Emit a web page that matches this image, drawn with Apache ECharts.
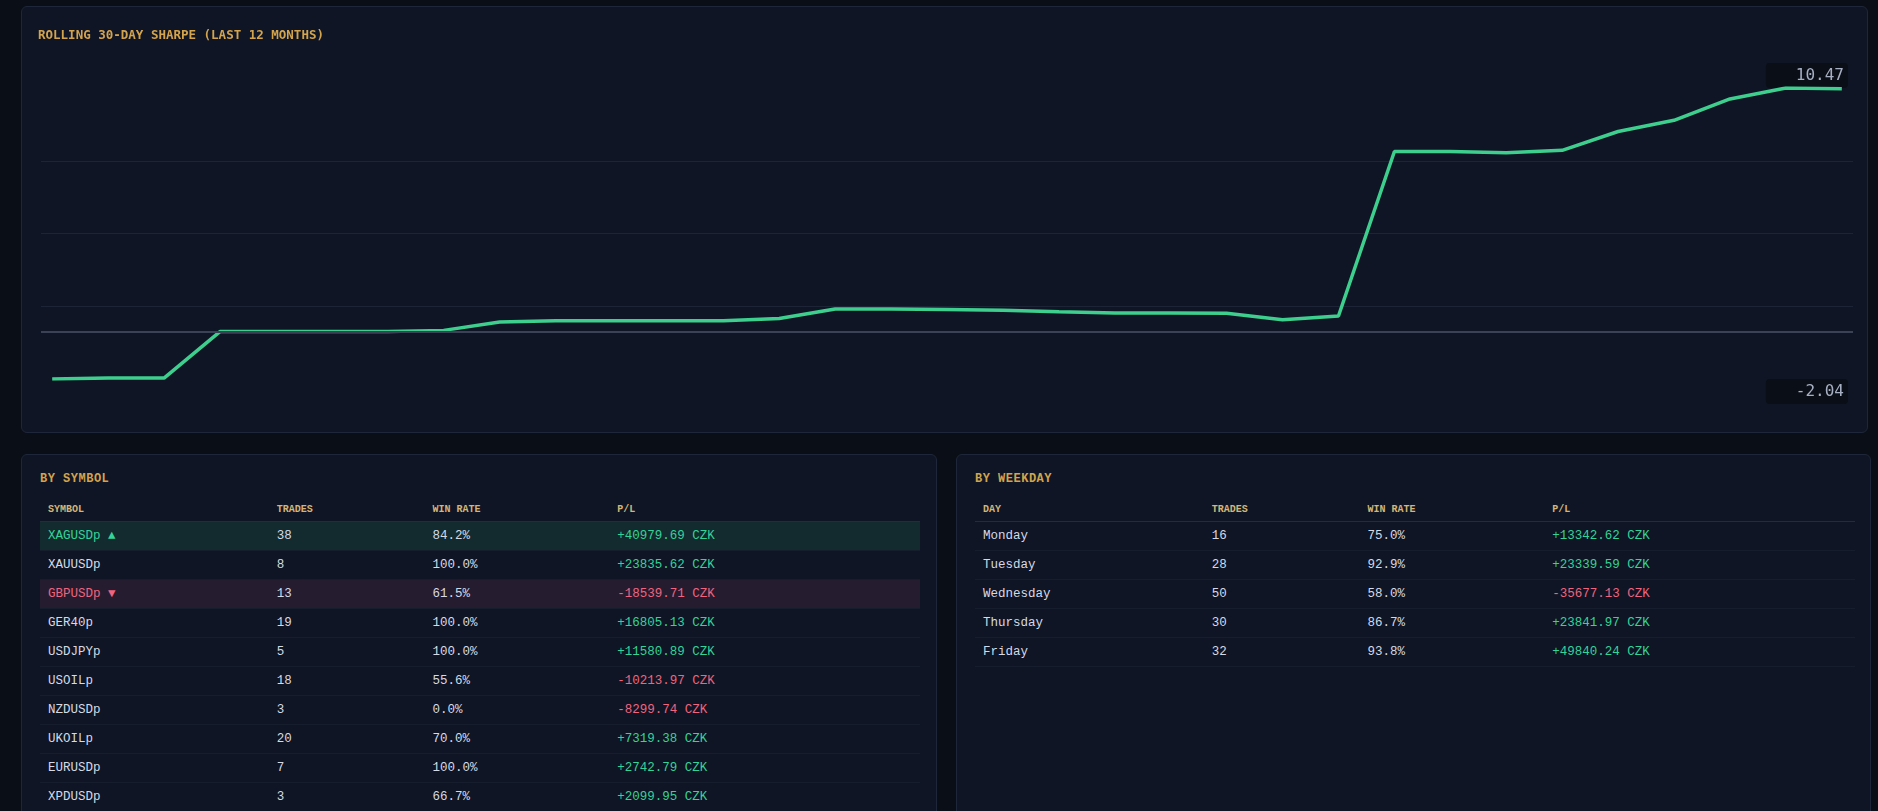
<!DOCTYPE html>
<html>
    <head>
        <meta charset="UTF-8">
        <title>Sharpe</title>
        <script src="https://cdn.jsdelivr.net/npm/echarts@6.0.0/dist/echarts.min.js"></script>
        <style>
            html, body {
                margin: 0;
                padding: 0;
                width: 1878px;
                height: 811px;
                overflow: hidden;
                background: #0a0e17;
                font-family: 'Liberation Mono', 'DejaVu Sans Mono', monospace;
            }
            .panel {
                position: absolute;
                background: #0f1524;
                border: 1px solid #1e2639;
                border-radius: 6px;
                box-sizing: border-box;
            }
            .sharpe-panel { left: 21px; top: 6px; width: 1847px; height: 427px; }
            #sharpe { width: 100%; height: 100%; }
            .symbol-panel { left: 21px; top: 454px; width: 916px; height: 400px; }
            .weekday-panel { left: 956px; top: 454px; width: 915px; height: 400px; }
            h3 {
                margin: 0;
                position: absolute;
                left: 18px;
                top: 17px;
                font-size: 12px;
                letter-spacing: 0.5px;
                color: #d4a44c;
                font-weight: bold;
            }
            table {
                position: absolute;
                left: 18px;
                top: 42px;
                width: 880px;
                border-collapse: collapse;
                font-size: 12.5px;
                color: #d5dae6;
            }
            th {
                text-align: left;
                font-size: 10px;
                color: #d4b577;
                font-weight: bold;
                padding: 0 8px;
                height: 24px;
                border-bottom: 1px solid #232c3f;
            }
            td {
                padding: 0 8px;
                height: 28px;
                border-bottom: 1px solid #161e2e;
            }
            .pos { color: #34d399; }
            .neg { color: #f0647f; }
            tr.best td { background: #132b2e; }
            tr.worst td { background: #261c2f; }
        </style>
    </head>
    <body>
        <div class="panel sharpe-panel"><div id="sharpe"></div></div>
        <div class="panel symbol-panel">
            <h3>BY SYMBOL</h3>
            <table id="symbols"></table>
        </div>
        <div class="panel weekday-panel">
            <h3>BY WEEKDAY</h3>
            <table id="weekdays"></table>
        </div>
        <script>
            const sharpe = [-2.04, -2.0, -2.0, 0.0, 0.0, 0.0, 0.0, 0.05, 0.41, 0.46, 0.46, 0.46, 0.46, 0.56,
                0.97, 0.97, 0.95, 0.92, 0.85, 0.80, 0.80, 0.79, 0.51, 0.67, 7.74, 7.74, 7.69, 7.79,
                8.60, 9.08, 10.00, 10.47, 10.44];

            const symbols = [
                ['XAGUSDp', 38, 84.2, 40979.69],
                ['XAUUSDp', 8, 100.0, 23835.62],
                ['GBPUSDp', 13, 61.5, -18539.71],
                ['GER40p', 19, 100.0, 16805.13],
                ['USDJPYp', 5, 100.0, 11580.89],
                ['USOILp', 18, 55.6, -10213.97],
                ['NZDUSDp', 3, 0.0, -8299.74],
                ['UKOILp', 20, 70.0, 7319.38],
                ['EURUSDp', 7, 100.0, 2742.79],
                ['XPDUSDp', 3, 66.7, 2099.95]
            ];

            const weekdays = [
                ['Monday', 16, 75.0, 13342.62],
                ['Tuesday', 28, 92.9, 23339.59],
                ['Wednesday', 50, 58.0, -35677.13],
                ['Thursday', 30, 86.7, 23841.97],
                ['Friday', 32, 93.8, 49840.24]
            ];

            function fmtPl(v) {
                return ( v >= 0 ? '+' : '' ) + v.toFixed(2) + ' CZK';
            }

            function fillTable(el, first, rows, mark) {
                let html = '<tr><th style="width:26%">' + first + '</th><th style="width:17.7%">TRADES</th>'
                    + '<th style="width:21%">WIN RATE</th><th>P/L</th></tr>';
                let best = 0, worst = 0;
                rows.forEach((r, i) => {
                    if ( r[3] > rows[best][3] ) best = i;
                    if ( r[3] < rows[worst][3] ) worst = i;
                });
                rows.forEach((r, i) => {
                    let cls = '', name = r[0], nameCls = '';
                    if ( mark && i === best ) { cls = 'best'; name += ' ▲'; nameCls = 'pos'; }
                    if ( mark && i === worst ) { cls = 'worst'; name += ' ▼'; nameCls = 'neg'; }
                    html += '<tr class="' + cls + '"><td class="' + nameCls + '">' + name + '</td><td>' + r[1]
                        + '</td><td>' + r[2].toFixed(1) + '%</td><td class="' + ( r[3] >= 0 ? 'pos' : 'neg' ) + '">'
                        + fmtPl(r[3]) + '</td></tr>';
                });
                el.innerHTML = html;
            }

            fillTable(document.getElementById('symbols'), 'SYMBOL', symbols, true);
            fillTable(document.getElementById('weekdays'), 'DAY', weekdays, false);

            const minV = Math.min(...sharpe);
            const maxV = Math.max(...sharpe);

            const chart = echarts.init(document.getElementById('sharpe'));
            chart.setOption({
                animation: false,
                title: {
                    text: 'ROLLING 30-DAY SHARPE (LAST 12 MONTHS)',
                    left: 11,
                    top: 17,
                    textStyle: {
                        color: '#d4a44c',
                        fontSize: 12.5,
                        fontWeight: 'bold',
                        fontFamily: 'DejaVu Sans Mono'
                    }
                },
                grid: { left: 19, right: 14, top: 81, bottom: 53 },
                xAxis: {
                    type: 'value',
                    min: -0.2,
                    max: 32.2,
                    show: false
                },
                yAxis: {
                    type: 'value',
                    position: 'right',
                    min: minV,
                    max: maxV,
                    interval: (maxV - minV) / 4,
                    axisLine: { show: false },
                    axisTick: { show: false },
                    splitLine: {
                        showMinLine: false,
                        showMaxLine: false,
                        lineStyle: { color: '#1c2436' }
                    },
                    axisLabel: {
                        inside: true,
                        margin: 5,
                        verticalAlignMaxLabel: 'bottom',
                        verticalAlignMinLabel: 'top',
                        formatter: v => ( Math.abs(v - maxV) < 1e-6 || Math.abs(v - minV) < 1e-6 ) ? '{b|' + v.toFixed(2) + '}' : '',
                        rich: {
                            b: {
                                color: '#a7afc2',
                                fontSize: 16,
                                fontFamily: 'DejaVu Sans Mono',
                                backgroundColor: '#0a0e17',
                                borderRadius: 4,
                                padding: [5, 4, 4, 30]
                            }
                        }
                    }
                },
                series: [{
                    type: 'line',
                    data: sharpe.map((v, i) => [i, v]),
                    showSymbol: false,
                    lineStyle: { color: '#3ecf8e', width: 3.5 },
                    markLine: {
                        silent: true,
                        symbol: 'none',
                        label: { show: false },
                        lineStyle: { color: '#3a4356', type: 'solid', width: 2 },
                        data: [{ yAxis: 0 }]
                    }
                }]
            });
        </script>
    </body>
</html>
